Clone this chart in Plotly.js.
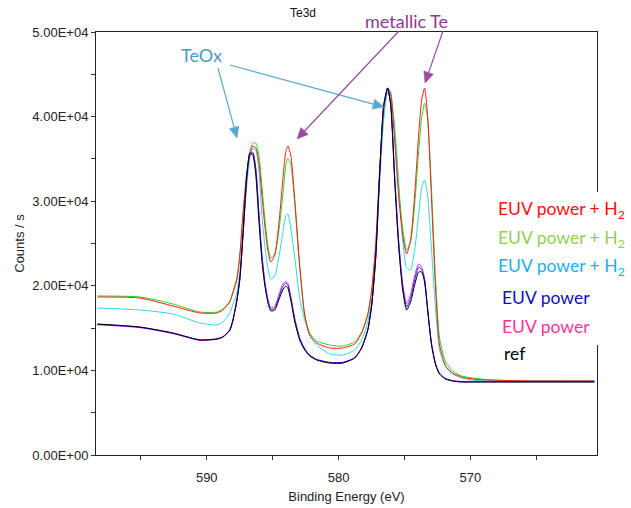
<!DOCTYPE html>
<html>
<head>
<meta charset="utf-8">
<script src="https://cdn.plot.ly/plotly-3.0.1.min.js"></script>
<style>html,body{margin:0;padding:0;background:#fff;}#chart{width:631px;height:508px;}</style>
</head>
<body>
<div id="chart"></div>
<script>
// Binding energy (eV)
const energy = [598.30,595.07,592.57,590.52,589.23,588.78,588.25,588.02,587.72,587.49,587.26,586.96,586.73,586.51,586.28,586.05,585.82,585.60,585.37,585.14,584.84,584.54,584.23,584.01,583.85,583.63,583.32,582.95,582.57,582.19,581.66,580.67,579.69,578.78,578.25,577.79,577.49,577.19,576.89,576.58,576.28,576.05,575.75,575.45,575.14,574.84,574.54,574.23,573.93,573.70,573.48,573.25,572.95,572.64,572.34,571.88,571.35,570.67,569.84,568.55,565.52,563.25,560.60];

// Counts / s
const euvH2Red = [18680,18560,17610,16790,16790,17140,18090,19150,20690,23640,28370,33450,35460,36520,36290,34630,30730,27190,24230,22810,23640,27190,32510,35810,36520,35460,30140,22460,16550,14180,13240,12650,12650,13120,14420,16550,19500,24820,33690,40780,43380,42550,37230,30730,26000,23760,25410,30730,37820,41960,43380,40190,30140,19500,13000,10520,9690,9220,8980,8870,8750,8750,8750];
const euvH2Green = [18800,18680,17850,16900,16900,17260,18200,19270,20920,23640,28010,33100,35810,36880,36880,35460,31910,28010,24820,23290,23760,26360,30730,34160,35100,34390,29550,22100,16550,14420,13470,13000,12880,13360,14540,16670,19500,24470,33100,40540,43380,42900,38170,31560,26830,24230,25170,29550,35810,39830,41600,39830,31320,20690,13830,10990,9930,9340,9100,8870,8750,8750,8750];
const euvH2Cyan = [17380,17140,16670,15600,15370,15720,16790,17730,19150,21630,26000,31910,35100,36290,36050,33690,28370,24820,22100,20800,21160,23290,26240,28250,28490,26830,23290,18560,15960,14180,13000,11940,11820,12410,13590,15720,18320,23290,31910,39600,42900,41960,39000,32510,25410,22100,21870,24230,28370,31560,32510,30730,24230,17140,12410,10400,9570,9100,8870,8750,8750,8750,8750];
const euvBlue = [15450,15100,14400,13620,13740,13980,14800,15900,18200,20800,25700,32800,35500,35700,33800,28600,23600,20400,18300,17200,17350,18600,19900,20330,20100,18600,16000,13800,12550,11800,11300,10950,10950,11500,12700,14800,17700,23200,33000,41200,43300,41500,32900,25200,19900,17500,18500,20700,22200,21900,20700,17300,13100,10700,9600,9000,8750,8650,8650,8650,8650,8650,8650];
const euvMagenta = [15400,15050,14350,13550,13680,13920,14700,15800,18100,20700,25600,32700,35600,35800,33900,28800,23800,20600,18500,17400,17600,18900,20200,20500,20300,18800,16100,13850,12550,11800,11250,10900,10900,11450,12650,14700,17600,23100,32900,41100,43400,41700,33300,25600,20300,17900,19000,21200,22600,22200,20900,17400,13200,10800,9650,9050,8800,8700,8700,8700,8700,8700,8700];
const refBlack = [15480,15130,14420,13590,13710,13950,14780,15960,18320,20920,26000,33100,35700,35460,33100,27780,23050,20090,18080,17020,17140,18320,19500,19980,19740,18320,15720,13590,12410,11700,11230,10870,10870,11470,12650,14780,17730,23290,33100,41370,43380,41370,32510,24820,19500,17140,18080,20090,21630,21630,20450,17140,13000,10640,9570,8980,8750,8630,8630,8630,8630,8630,8630];

const seriesNames = ['EUV power + H<sub>2</sub>','EUV power + H<sub>2</sub>','EUV power + H<sub>2</sub>','EUV power','EUV power','ref'];
const yTickVals = [0,10000,20000,30000,40000,50000];
const yTickText = ['0.00E+00','1.00E+04','2.00E+04','3.00E+04','4.00E+04','5.00E+04'];
const xTickVals = [590,580,570];
const xTickText = ['590','580','570'];

const series = [
  {y: euvH2Cyan, color: '#2fd8e0', idx: 2},
  {y: euvH2Green, color: '#22dd22', idx: 1},
  {y: euvH2Red, color: '#ff1a1a', idx: 0},
  {y: euvMagenta, color: '#ff22ff', idx: 4},
  {y: euvBlue, color: '#1a1aff', idx: 3},
  {y: refBlack, color: '#000000', idx: 5}
];
const traces = series.map(s => ({
  x: energy, y: s.y, type: 'scatter', mode: 'lines', name: seriesNames[s.idx],
  line: {color: s.color, width: 1, shape: 'spline', smoothing: 0.6},
  showlegend: false, hoverinfo: 'skip'
}));

const legendColors = ['#ff1010','#92d050','#1ab0f0','#1010b8','#ff3399','#000000'];
const legendPos = [[496,210],[496,239],[496,267],[500,297],[500,326],[502,353]];

const L = 96, T = 32, W = 501, H = 423;
const px = x => (x - L) / W;
const py = y => (T + H - y) / H;

const annotations = [];
legendPos.forEach((p, i) => {
  annotations.push({xref:'paper', yref:'paper', x: px(p[0]), y: py(p[1]), xanchor:'left', yanchor:'middle',
    text: seriesNames[i], showarrow:false, font:{family:'Lato, Open Sans, sans-serif', size:17.5, color: legendColors[i]}});
});
annotations.push({xref:'paper', yref:'paper', x: px(201), y: py(55), xanchor:'center', yanchor:'middle',
  text:'TeOx', showarrow:false, font:{family:'Lato, Open Sans, sans-serif', size:18, color:'#4a9cc2'}});
annotations.push({xref:'paper', yref:'paper', x: px(406), y: py(21), xanchor:'center', yanchor:'middle',
  text:'metallic Te', showarrow:false, font:{family:'Lato, Open Sans, sans-serif', size:18, color:'#8e3a94'}});

// arrows as shapes: [tipX, tipY, tailX, tailY, color] in pixels
const arrows = [
  [237,138,218,68,'#5aa8cc'],
  [384,107,230,65,'#5aa8cc'],
  [297,139,399,31,'#9a4aa0'],
  [425,83,443,31,'#9a4aa0']
];
const shapes = [
  {type:'rect', xref:'paper', yref:'paper', x0: px(480), x1: px(631), y0: py(345), y1: py(192),
   fillcolor:'#ffffff', line:{width:0}, layer:'above'}
];
arrows.forEach(a => {
  const dx = a[0]-a[2], dy = a[1]-a[3];
  const len = Math.hypot(dx, dy);
  const ux = dx/len, uy = dy/len;
  const hl = 11, hw = 5;
  const bx = a[0]-hl*ux, by = a[1]-hl*uy;
  const c1x = bx - hw*uy, c1y = by + hw*ux;
  const c2x = bx + hw*uy, c2y = by - hw*ux;
  shapes.push({type:'line', xref:'paper', yref:'paper', x0: px(a[2]), y0: py(a[3]), x1: px(bx), y1: py(by),
    line:{color:a[4], width:1.2}, layer:'above'});
  shapes.push({type:'path', xref:'paper', yref:'paper',
    path: 'M ' + px(a[0]) + ' ' + py(a[1]) + ' L ' + px(c1x) + ' ' + py(c1y) + ' L ' + px(c2x) + ' ' + py(c2y) + ' Z',
    fillcolor:a[4], line:{color:a[4], width:0.5}, layer:'above'});
});

const axisFont = {family: 'Liberation Sans, Arial, sans-serif', size: 13, color: '#222'};
const layout = {
  width: 631, height: 508,
  margin: {l: L, r: 631 - L - W, t: T, b: 508 - T - H, pad: 0},
  paper_bgcolor: '#fff', plot_bgcolor: '#fff',
  showlegend: false,
  title: {text: 'Te3d', x: 303/631, xanchor: 'center', y: 1 - 13/508, yanchor: 'middle',
          font: {family: 'Liberation Sans, Arial, sans-serif', size: 12, color: '#111'}},
  xaxis: {
    range: [598.4, 560.4], autorange: false,
    tickvals: xTickVals, ticktext: xTickText,
    ticks: 'outside', ticklen: 4, tickcolor: '#333', tickwidth: 1,
    minor: {dtick: 5, tick0: 0, ticks: 'outside', ticklen: 4, tickcolor: '#333', showgrid: false},
    showline: true, linecolor: '#222', linewidth: 1, mirror: true,
    showgrid: false, zeroline: false, ticklabelstandoff: 6,
    tickfont: axisFont,
    title: {text: 'Binding Energy (eV)', standoff: 8, font: axisFont}
  },
  yaxis: {
    range: [0, 50000], autorange: false,
    tickvals: yTickVals, ticktext: yTickText,
    ticks: 'outside', ticklen: 4, tickcolor: '#333', tickwidth: 1,
    minor: {dtick: 5000, tick0: 0, ticks: 'outside', ticklen: 4, tickcolor: '#333', showgrid: false},
    showline: true, linecolor: '#222', linewidth: 1, mirror: true,
    showgrid: false, zeroline: false,
    tickfont: axisFont,
    title: {text: 'Counts / s', standoff: 4, font: axisFont}
  },
  shapes: shapes,
  annotations: annotations
};

Plotly.newPlot('chart', traces, layout, {displayModeBar: false, staticPlot: true});
</script>
</body>
</html>
